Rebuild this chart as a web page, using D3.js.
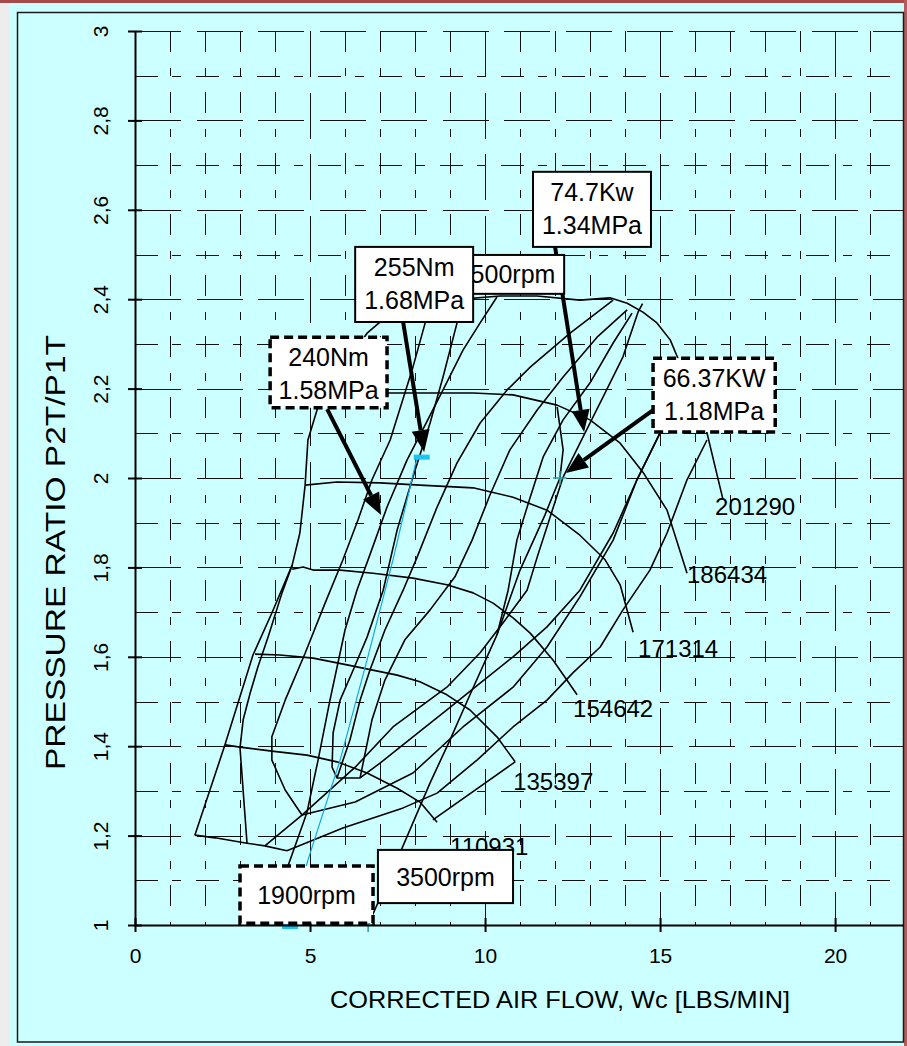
<!DOCTYPE html>
<html>
<head>
<meta charset="utf-8">
<script src="https://cdn.jsdelivr.net/npm/d3@7"></script>
<style>
    html, body { margin: 0; padding: 0; background: #ffffff; }
    svg { display: block; font-family: "Liberation Sans", Arial, sans-serif; }
</style>
</head>
<body>
<div id="data-viz-map"></div>
<script>

// axis values
const xMax = 21.94
const xTicks = [0, 5, 10, 15, 20]
const yTicks = [1, 1.2, 1.4, 1.6, 1.8, 2, 2.2, 2.4, 2.6, 2.8, 3]
const yTickLabels = ["1", "1,2", "1,4", "1,6", "1,8", "2", "2,2", "2,4", "2,6", "2,8", "3"]
const xTitle = "CORRECTED AIR FLOW, Wc [LBS/MIN]"
const yTitle = "PRESSURE RATIO P2T/P1T"

// speed lines [Wc, PR]
const speed201290 = [[7.86,2.398],[9.0,2.398],[10.43,2.407],[11.49,2.407],[12.71,2.398],[13.57,2.403],[14.06,2.391],[14.51,2.371],[14.91,2.347],[15.29,2.309],[15.51,2.268],[15.9,2.19],[16.34,2.101],[16.8,1.951]]
const speed186434 = [[5.34,2.183],[7.2,2.19],[9.66,2.19],[10.8,2.186],[12.06,2.163],[13.0,2.13],[13.86,2.078],[14.51,2.013],[15.2,1.928],[15.77,1.787]]
const speed171314 = [[4.86,1.984],[5.77,1.991],[7.0,1.989],[8.14,1.984],[9.66,1.978],[10.8,1.957],[11.77,1.928],[12.71,1.872],[13.43,1.817],[13.86,1.761],[14.23,1.655]]
const speed154642 = [[4.49,1.796],[4.8,1.801],[5.09,1.794],[5.86,1.794],[6.8,1.787],[7.94,1.776],[8.91,1.761],[9.66,1.743],[10.23,1.72],[10.8,1.687],[11.29,1.653],[11.94,1.593],[12.63,1.515]]
const speed135397 = [[3.43,1.606],[4.14,1.604],[5.09,1.597],[6.06,1.582],[7.49,1.559],[8.14,1.544],[8.91,1.515],[9.57,1.481],[10.34,1.421],[10.86,1.365]]
const speed110931 = [[2.57,1.403],[3.0,1.398],[3.91,1.389],[4.91,1.38],[5.77,1.365],[6.63,1.34],[7.49,1.306],[8.14,1.275],[8.63,1.23]]
const speedLow = [[1.71,1.201],[2.29,1.195],[3.2,1.183],[3.71,1.177],[4.34,1.166]]
const speedNames = ["201290", "186434", "171314", "154642", "135397", "110931"]

// surge line and the other map lines
const surgeLine = [[1.71,1.201],[2.57,1.403],[3.37,1.604],[3.91,1.698],[4.49,1.805],[4.71,1.877],[4.86,1.984],[4.94,2.085],[5.2,2.152],[5.34,2.183],[6.63,2.324],[7.14,2.358],[7.86,2.398]]
const innerLine = [[3.2,1.183],[3.0,1.396],[3.09,1.459],[3.29,1.519],[3.51,1.577],[3.8,1.644],[4.2,1.743],[4.49,1.805]]
const island1 = [[3.71,1.177],[4.77,1.246],[4.29,1.302],[3.91,1.369],[3.91,1.421],[4.29,1.503],[4.86,1.608],[5.43,1.72],[5.94,1.817],[6.37,1.906],[6.77,1.996],[7.29,2.085],[7.94,2.248],[8.29,2.347],[8.71,2.398]]
const line4500 = [[10.34,2.405],[9.86,2.347],[9.37,2.286],[8.8,2.197],[8.29,2.119],[7.77,2.04],[7.2,1.935],[6.71,1.828],[6.34,1.749],[6.0,1.66],[5.57,1.503],[5.23,1.369],[4.91,1.251],[4.37,1.132]]
const island2 = [[9.57,2.398],[9.2,2.347],[8.8,2.226],[8.43,2.123],[7.94,2.002],[7.49,1.884],[7.09,1.749],[6.63,1.644],[6.23,1.57],[5.86,1.503],[5.66,1.43],[5.63,1.353],[5.77,1.329],[6.43,1.329],[7.0,1.362],[7.94,1.421],[8.91,1.481],[9.86,1.541],[10.8,1.6],[11.77,1.667],[12.71,1.749],[13.66,1.877],[14.34,1.996],[15.0,2.101]]
const lineX2 = [[4.34,1.166],[5.94,1.217],[7.66,1.262],[8.63,1.295],[9.77,1.369],[10.8,1.443],[11.77,1.503],[12.51,1.564],[13.29,1.622],[13.94,1.705],[14.71,1.794],[15.2,1.877],[15.77,1.996],[16.34,2.085]]
const lineX3 = [[4.77,1.246],[6.29,1.275],[7.94,1.34],[9.37,1.443],[10.8,1.532],[11.77,1.622],[12.71,1.734],[13.66,1.861],[14.34,1.996],[15.0,2.101]]
const lineX4 = [[4.77,1.246],[6.29,1.353],[7.37,1.443],[8.91,1.532],[9.86,1.609],[10.57,1.682],[11.2,1.749],[11.49,1.823],[11.86,1.913],[12.23,2.002],[12.8,2.092],[13.37,2.181],[13.94,2.271],[14.37,2.371],[14.5,2.39]]
const lineA = [[13.66,2.398],[12.43,2.324],[11.29,2.248],[10.63,2.197],[9.86,2.123],[9.2,2.034],[8.63,1.935],[8.06,1.823],[7.66,1.749],[7.14,1.66],[6.71,1.57],[6.43,1.503],[6.14,1.414],[5.77,1.329]]
const lineB = [[14.06,2.376],[13.2,2.315],[12.23,2.226],[11.49,2.152],[10.71,2.063],[10.14,1.962],[9.63,1.861],[9.14,1.779],[8.43,1.705],[7.71,1.638],[7.14,1.548],[6.77,1.459],[6.43,1.329]]
const lineC = [[14.2,2.369],[13.66,2.302],[13.0,2.213],[12.23,2.13],[11.66,2.047],[11.29,1.957],[10.91,1.861],[10.66,1.749],[10.34,1.649]]
const chokeLine = [[8.51,1.235],[10.86,1.365]]
const line3500 = [[6.66,1.0],[7.63,1.172],[8.43,1.318],[9.0,1.414],[9.57,1.515],[10.34,1.649],[11.0,1.794],[11.71,1.917],[12.14,2.0],[12.23,2.063],[12.06,2.159]]
const line1900 = [[4.43,1.0],[4.94,1.145],[5.86,1.369],[6.63,1.593],[7.37,1.817],[8.06,2.047]]

// operating point markers
const dashMarkers = [[8.19,2.05],[4.43,1.0]]
const plusMarkers = [[12.14,2.0],[6.66,1.0]]

// callouts: text, box corners (data units), arrow start/end
const calloutText = [["4500rpm"], ["255Nm","1.68MPa"], ["74.7Kw","1.34MPa"], ["240Nm","1.58MPa"], ["66.37KW","1.18MPa"], ["1900rpm"], ["3500rpm"]]
const calloutX0 = [8.94, 6.29, 11.37, 3.86, 14.8, 3.0, 6.94]
const calloutX1 = [12.26, 9.66, 14.74, 7.2, 18.29, 6.8, 10.8]
const calloutTop = [2.499, 2.517, 2.685, 2.315, 2.268, 1.132, 1.168]
const calloutBottom = [2.412, 2.349, 2.517, 2.157, 2.103, 1.004, 1.049]
const arrowFrom = [null, [7.66,2.349], [12.0,2.517], [5.49,2.154], [14.8,2.152], null, null]
const arrowTo = [null, [8.26,2.058], [12.83,2.103], [7.03,1.917], [12.31,2.011], null, null]

function drawChart() {

    // 1. Accessors
    const xAccessor = d => d[0]
    const yAccessor = d => d[1]

    // 2. Dimensions
    let dimensions = {
        width: 907,
        height: 1046,
        margin: { top: 31, right: 4, bottom: 121, left: 135 },
    }
    dimensions.boundedWidth = dimensions.width - dimensions.margin.left - dimensions.margin.right
    dimensions.boundedHeight = dimensions.height - dimensions.margin.top - dimensions.margin.bottom

    // 3. Canvas
    const wrapper = d3.select("#data-viz-map")
        .append("svg")
        .attr("width", dimensions.width)
        .attr("height", dimensions.height)

    wrapper.append("rect")
        .attr("width", dimensions.width)
        .attr("height", dimensions.height)
        .attr("fill", "#ccffff")
    wrapper.append("rect")
        .attr("width", 10)
        .attr("height", dimensions.height)
        .attr("fill", "#ededed")
    wrapper.append("rect")
        .attr("width", dimensions.width)
        .attr("height", 3)
        .attr("fill", "#a84a4a")
    wrapper.append("rect")
        .attr("x", 904)
        .attr("width", 3)
        .attr("height", dimensions.height)
        .attr("fill", "#b45c5c")
    wrapper.append("rect")
        .attr("x", 17.5)
        .attr("y", 12.5)
        .attr("width", 886)
        .attr("height", 1029.5)
        .attr("fill", "none")
        .attr("stroke", "#1a1a1a")
        .attr("stroke-width", 1.5)

    const chart = wrapper.append("g")

    // 4. Scales
    const xScale = d3.scaleLinear()
        .domain([0, xMax])
        .range([dimensions.margin.left, dimensions.margin.left + dimensions.boundedWidth])
    const yScale = d3.scaleLinear()
        .domain([1, 3])
        .range([dimensions.margin.top + dimensions.boundedHeight, dimensions.margin.top])

    const px = v => Math.round(v) + 0.5

    // gridlines
    const grid = chart.append("g")
        .attr("stroke", "#111")
        .attr("stroke-width", 1)
        .attr("shape-rendering", "crispEdges")

    grid.selectAll(".grid-v")
        .data(d3.range(1, Math.floor(xMax) + 1))
        .join("line")
            .attr("class", "grid-v")
            .attr("x1", d => px(xScale(d)))
            .attr("x2", d => px(xScale(d)))
            .attr("y1", yScale(3))
            .attr("y2", yScale(1))
            .attr("stroke-dasharray", d => d % 5 === 0 ? "46,15.5" : "21,16,8,16")

    grid.selectAll(".grid-h")
        .data(d3.range(11, 31))
        .join("line")
            .attr("class", "grid-h")
            .attr("x1", xScale(0))
            .attr("x2", xScale(xMax))
            .attr("y1", d => px(yScale(d / 10)))
            .attr("y2", d => px(yScale(d / 10)))
            .attr("stroke-dasharray", d => d % 2 === 0 ? "46,15.5" : "23,14,9,15")

    // 5. Draw data
    const lineGenerator = d3.line()
        .x(d => xScale(xAccessor(d)))
        .y(d => yScale(yAccessor(d)))

    const mapLines = [surgeLine, innerLine, island1, line4500, island2, lineX2, lineX3, lineX4,
        lineA, lineB, lineC, chokeLine, line3500, speedLow]
    const speedLines = [speed201290, speed186434, speed171314, speed154642, speed135397, speed110931]

    chart.append("g").selectAll("path")
        .data(mapLines.concat(speedLines))
        .join("path")
            .attr("d", lineGenerator)
            .attr("fill", "none")
            .attr("stroke", "#000")
            .attr("stroke-width", 1.6)
            .attr("stroke-linejoin", "round")

    chart.append("path")
        .attr("d", lineGenerator(line1900))
        .attr("fill", "none")
        .attr("stroke", "#12a8dc")
        .attr("stroke-width", 1.2)

    chart.selectAll(".dash-marker")
        .data(dashMarkers)
        .join("rect")
            .attr("class", "dash-marker")
            .attr("x", d => xScale(xAccessor(d)) - 8)
            .attr("y", d => yScale(yAccessor(d)) - 1)
            .attr("width", 16)
            .attr("height", 5)
            .attr("fill", "#1cc4f2")

    chart.selectAll(".plus-marker")
        .data(plusMarkers)
        .join("path")
            .attr("class", "plus-marker")
            .attr("d", d => {
                const cx = xScale(xAccessor(d)), cy = yScale(yAccessor(d))
                return `M${cx - 7},${cy}H${cx + 7}M${cx},${cy - 7}V${cy + 7}`
            })
            .attr("stroke", "#2a9c9c")
            .attr("stroke-width", 1.5)

    // 6. Peripherals
    const yAxisGenerator = d3.axisLeft(yScale)
        .tickValues(yTicks)
        .tickFormat((d, i) => yTickLabels[i])
        .tickSizeInner(7)
        .tickSizeOuter(0)
    const yAxis = chart.append("g")
        .attr("transform", `translate(${xScale(0)},0)`)
        .call(yAxisGenerator)
    yAxis.select(".domain").attr("stroke", "#000").attr("stroke-width", 2)
    yAxis.selectAll(".tick line").attr("x1", 7).attr("stroke-width", 2)
    yAxis.selectAll(".tick text")
        .attr("transform", "rotate(-90)")
        .attr("x", 0)
        .attr("y", -27)
        .attr("dy", 0)
        .attr("text-anchor", "middle")
        .attr("fill", "#000")
        .style("font-size", "21px")
        .style("font-family", "Liberation Sans, Arial, sans-serif")

    const xAxisGenerator = d3.axisBottom(xScale)
        .tickValues(xTicks)
        .tickSizeInner(7)
        .tickSizeOuter(0)
    const xAxis = chart.append("g")
        .attr("transform", `translate(0,${yScale(1)})`)
        .call(xAxisGenerator)
    xAxis.select(".domain").attr("stroke", "#000").attr("stroke-width", 2)
    xAxis.selectAll(".tick line").attr("y1", -7).attr("stroke-width", 2)
    xAxis.selectAll(".tick text")
        .attr("y", 38)
        .attr("dy", 0)
        .attr("fill", "#000")
        .style("font-size", "21px")
        .style("font-family", "Liberation Sans, Arial, sans-serif")

    wrapper.append("text")
        .attr("x", 330)
        .attr("y", 1008)
        .attr("textLength", 460)
        .attr("lengthAdjust", "spacingAndGlyphs")
        .style("font-size", "24px")
        .text(xTitle)

    wrapper.append("text")
        .attr("transform", "translate(65,770) rotate(-90)")
        .attr("textLength", 435)
        .attr("lengthAdjust", "spacingAndGlyphs")
        .style("font-size", "28px")
        .text(yTitle)

    // speed labels sit just below the end of each speed line
    const labelOffsets = [[-8, 15], [0, 10], [5, 25], [-4, 22], [-2, 28], [13, 33]]
    chart.selectAll(".speed-label")
        .data(speedLines)
        .join("text")
            .attr("class", "speed-label")
            .attr("x", (d, i) => xScale(xAccessor(d[d.length - 1])) + labelOffsets[i][0])
            .attr("y", (d, i) => yScale(yAccessor(d[d.length - 1])) + labelOffsets[i][1])
            .style("font-size", "24px")
            .text((d, i) => speedNames[i])

    // arrows
    const arrows = chart.append("g")
    calloutText.forEach((t, i) => {
        if (!arrowFrom[i]) return
        const x1 = xScale(arrowFrom[i][0]), y1 = yScale(arrowFrom[i][1])
        const x2 = xScale(arrowTo[i][0]), y2 = yScale(arrowTo[i][1])
        const angle = Math.atan2(y2 - y1, x2 - x1)
        const headLength = 22
        const headHalf = 9
        const bx = x2 - headLength * Math.cos(angle)
        const by = y2 - headLength * Math.sin(angle)
        arrows.append("line")
            .attr("x1", x1).attr("y1", y1)
            .attr("x2", bx).attr("y2", by)
            .attr("stroke", "#000")
            .attr("stroke-width", 4)
        arrows.append("path")
            .attr("d", `M${x2},${y2}L${bx - headHalf * Math.sin(angle)},${by + headHalf * Math.cos(angle)}L${bx + headHalf * Math.sin(angle)},${by - headHalf * Math.cos(angle)}Z`)
            .attr("fill", "#000")
    })

    // callout boxes
    const dashedCallouts = [3, 4, 5]
    const boxes = chart.selectAll(".callout")
        .data(calloutText)
        .join("g")
            .attr("class", "callout")

    boxes.append("rect")
        .attr("x", (d, i) => xScale(calloutX0[i]))
        .attr("y", (d, i) => yScale(calloutTop[i]))
        .attr("width", (d, i) => xScale(calloutX1[i]) - xScale(calloutX0[i]))
        .attr("height", (d, i) => yScale(calloutBottom[i]) - yScale(calloutTop[i]))
        .attr("fill", "#ffffff")
        .attr("stroke", "#000")
        .attr("stroke-width", (d, i) => dashedCallouts.includes(i) ? 3.5 : 2)
        .attr("stroke-dasharray", (d, i) => dashedCallouts.includes(i) ? "9,5" : null)

    boxes.each(function(lines, i) {
        const cx = (xScale(calloutX0[i]) + xScale(calloutX1[i])) / 2
        const top = yScale(calloutTop[i])
        const h = yScale(calloutBottom[i]) - top
        const g = d3.select(this)
        if (lines.length === 2) {
            g.append("text").attr("x", cx).attr("y", top + 29).attr("text-anchor", "middle")
                .style("font-size", "25px").text(lines[0])
            g.append("text").attr("x", cx).attr("y", top + 62).attr("text-anchor", "middle")
                .style("font-size", "25px").text(lines[1])
        } else {
            g.append("text").attr("x", cx).attr("y", top + h / 2 + 9).attr("text-anchor", "middle")
                .style("font-size", "25px").text(lines[0])
        }
    })
}

drawChart()
</script>
</body>
</html>
